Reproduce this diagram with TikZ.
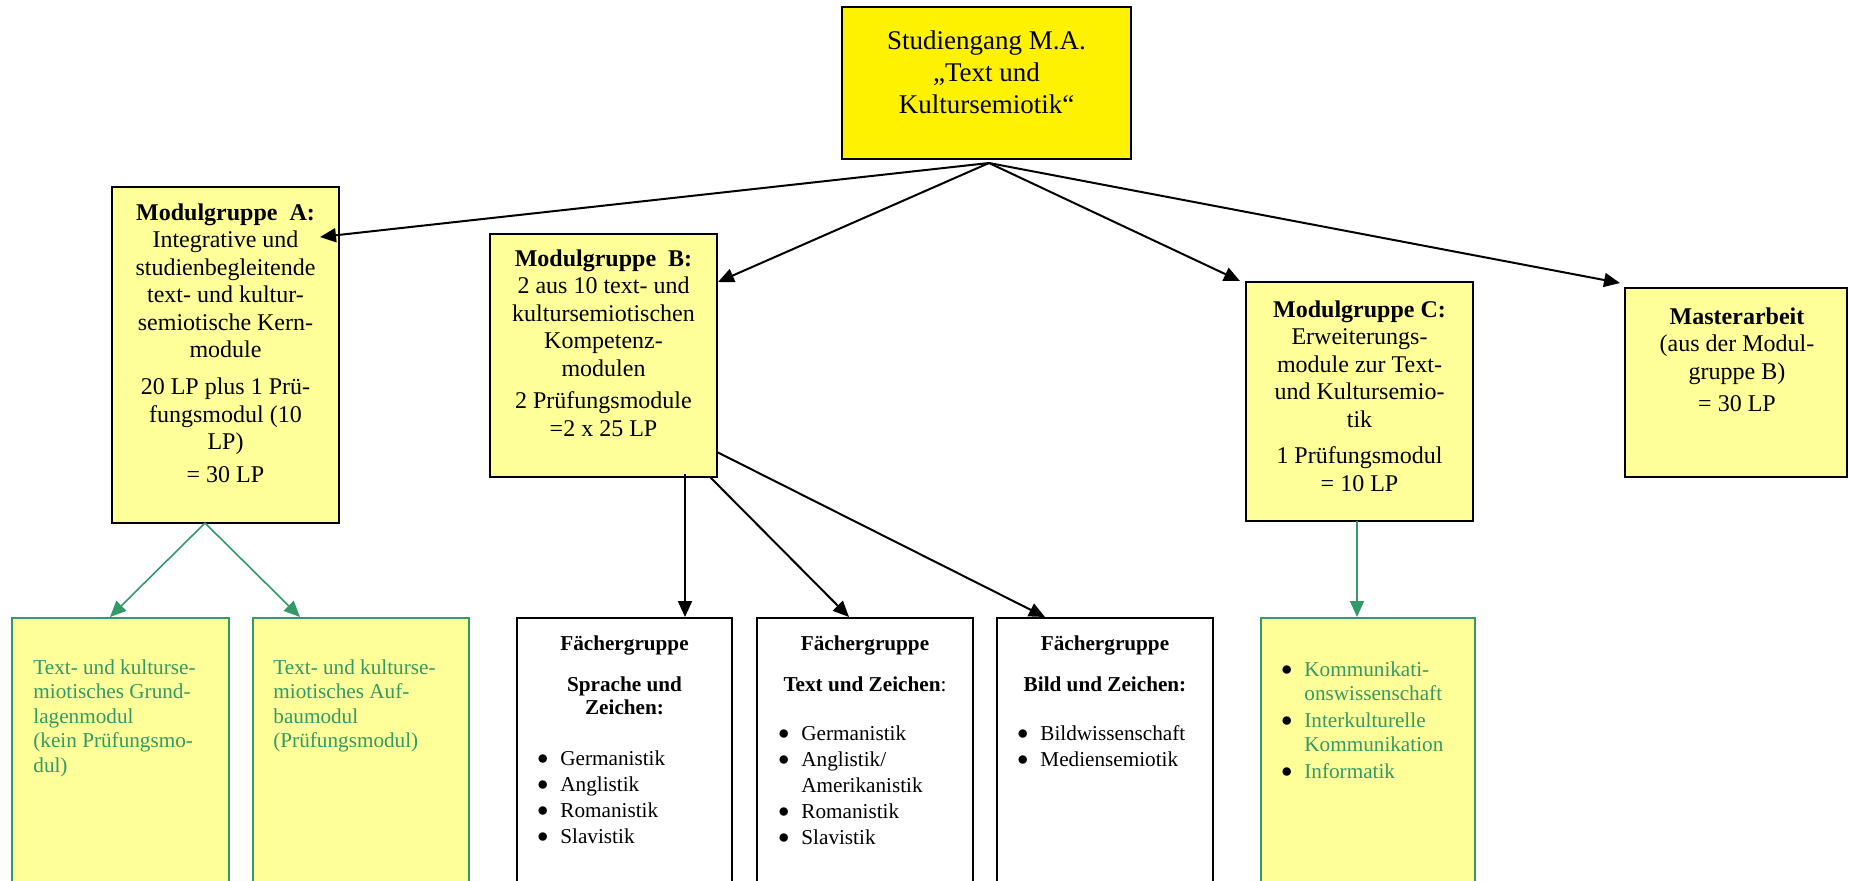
\documentclass[tikz,border=0pt]{standalone}
\usepackage{fontspec}
\setmainfont{Liberation Serif}
\usetikzlibrary{arrows.meta}

\definecolor{paleyellow}{RGB}{255,255,153}
\definecolor{seagreen}{RGB}{51,153,102}

\newcommand{\blt}{\raisebox{0.2pt}{$\bullet$}}

\tikzset{
  box/.style={draw=black, line width=1pt, fill=paleyellow, inner sep=0pt, outer sep=0pt, anchor=north west},
  greenbox/.style={box, draw=seagreen, line width=0.8pt},
  whitebox/.style={box, fill=white},
  arr/.style={-{Triangle[length=8pt,width=7pt]}, line width=1pt},
  greenarr/.style={arr, draw=seagreen, line width=0.8pt},
  txt/.style={inner sep=0pt, anchor=base, font=\fontsize{12}{13.75}\selectfont},
  headtxt/.style={inner sep=0pt, anchor=base, font=\fontsize{10.6}{11.5}\selectfont},
  listtxt/.style={inner sep=0pt, anchor=base west, font=\fontsize{10.6}{13}\selectfont},
}

\begin{document}
\begin{tikzpicture}[x=0.5pt, y=-0.5pt]
    \useasboundingbox (0,0) rectangle (1849,880);
    \clip (0,0) rectangle (1849,880);

    % Upper row of boxes
    \node[box, fill=yellow, minimum width=144.5pt, minimum height=76pt] (studiengang) at (842,7) {};
    \node[box, minimum width=113.5pt, minimum height=168pt] (modA) at (112,187) {};
    \node[box, minimum width=113.5pt, minimum height=121.5pt] (modB) at (490,234) {};
    \node[box, minimum width=113.5pt, minimum height=119.5pt] (modC) at (1246,282) {};
    \node[box, minimum width=111pt, minimum height=94.5pt] (master) at (1625,288) {};

    % Lower row of boxes (cut off at the bottom)
    \node[greenbox, minimum width=108.5pt, minimum height=141pt] (grund) at (12,618) {};
    \node[greenbox, minimum width=108pt, minimum height=141pt] (aufbau) at (253,618) {};
    \node[whitebox, minimum width=107.5pt, minimum height=141pt] (sprache) at (517,618) {};
    \node[whitebox, minimum width=108pt, minimum height=141pt] (textz) at (757,618) {};
    \node[whitebox, minimum width=108pt, minimum height=141pt] (bild) at (997,618) {};
    \node[greenbox, minimum width=107pt, minimum height=141pt] (kommu) at (1261,618) {};

    % Texts of the upper row
    \node[txt, font=\fontsize{13.5}{16}\selectfont] (studiengangtxt) at (986.5,49.5)
        {\begin{tabular}[t]{@{}c@{}}Studiengang M.A.\\„Text und\\Kultursemiotik“\end{tabular}};
    \node[txt] (modAtxt) at (225.5,220)
        {\begin{tabular}[t]{@{}c@{}}\textbf{Modulgruppe\ \ A:}\\Integrative und\\studienbegleitende\\text- und kultur-\\semiotische Kern-\\module\\[4.75pt]20 LP plus 1 Prü-\\fungsmodul (10\\LP)\\[2.75pt]= 30 LP\end{tabular}};
    \node[txt] (modBtxt) at (603.5,266)
        {\begin{tabular}[t]{@{}c@{}}\textbf{Modulgruppe\ \ B:}\\2 aus 10 text- und\\kultursemiotischen\\Kompetenz-\\modulen\\[2.5pt]2 Prüfungsmodule\\=2 x 25 LP\end{tabular}};
    \node[txt] (modCtxt) at (1359.5,317)
        {\begin{tabular}[t]{@{}c@{}}\textbf{Modulgruppe C:}\\Erweiterungs-\\module zur Text-\\und Kultursemio-\\tik\\[4.5pt]1 Prüfungsmodul\\= 10 LP\end{tabular}};
    \node[txt] (mastertxt) at (1737,324)
        {\begin{tabular}[t]{@{}c@{}}\textbf{Masterarbeit}\\(aus der Modul-\\gruppe B)\\[2.25pt]= 30 LP\end{tabular}};

    % Texts of the lower row
    \node[listtxt, font=\fontsize{10.6}{12.25}\selectfont, text=seagreen] (grundtxt) at (33,674)
        {\begin{tabular}[t]{@{}l@{}}Text- und kulturse-\\miotisches Grund-\\lagenmodul\\(kein Prüfungsmo-\\dul)\end{tabular}};
    \node[listtxt, font=\fontsize{10.6}{12.25}\selectfont, text=seagreen] (aufbautxt) at (273,674)
        {\begin{tabular}[t]{@{}l@{}}Text- und kulturse-\\miotisches Auf-\\baumodul\\(Prüfungsmodul)\end{tabular}};

    \node[headtxt] (sprachehead) at (624.5,650)
        {\begin{tabular}[t]{@{}c@{}}\textbf{Fächergruppe}\\[9pt]\textbf{Sprache und}\\\textbf{Zeichen:}\end{tabular}};
    \node[listtxt] (sprachelist) at (537,765)
        {\begin{tabular}[t]{@{}p{11.5pt}@{}l@{}}\blt&Germanistik\\\blt&Anglistik\\\blt&Romanistik\\\blt&Slavistik\end{tabular}};

    \node[headtxt] (textzhead) at (865,650)
        {\begin{tabular}[t]{@{}c@{}}\textbf{Fächergruppe}\\[9pt]\textbf{Text und Zeichen}:\end{tabular}};
    \node[listtxt] (textzlist) at (778,740)
        {\begin{tabular}[t]{@{}p{11.5pt}@{}l@{}}\blt&Germanistik\\\blt&Anglistik/\\&Amerikanistik\\\blt&Romanistik\\\blt&Slavistik\end{tabular}};

    \node[headtxt] (bildhead) at (1105,650)
        {\begin{tabular}[t]{@{}c@{}}\textbf{Fächergruppe}\\[9pt]\textbf{Bild und Zeichen:}\end{tabular}};
    \node[listtxt] (bildlist) at (1017,740)
        {\begin{tabular}[t]{@{}p{11.5pt}@{}l@{}}\blt&Bildwissenschaft\\\blt&Mediensemiotik\end{tabular}};

    \node[listtxt, font=\fontsize{10.6}{12}\selectfont] (kommulist) at (1281,676)
        {\begin{tabular}[t]{@{}p{11.5pt}@{}l@{}}\blt&\textcolor{seagreen}{Kommunikati-}\\&\textcolor{seagreen}{onswissenschaft}\\[1.5pt]\blt&\textcolor{seagreen}{Interkulturelle}\\&\textcolor{seagreen}{Kommunikation}\\[1.5pt]\blt&\textcolor{seagreen}{Informatik}\end{tabular}};

    % Connectors from the study programme
    \draw[arr] ([shift={(2.5,4)}]studiengang.south) -- ([shift={(-19,50)}]modA.north east);
    \draw[arr] ([shift={(2.5,4)}]studiengang.south) -- ([shift={(1,48)}]modB.north east);
    \draw[arr] ([shift={(2.5,4)}]studiengang.south) -- ([shift={(-6,-1)}]modC.north west);
    \draw[arr] ([shift={(2.5,4)}]studiengang.south) -- ([shift={(-5,-5)}]master.north west);

    % Connectors from Modulgruppe B
    \draw[arr] ([shift={(-32,-3)}]modB.south east) -- ([shift={(60.5,-1)}]sprache.north);
    \draw[arr] ([shift={(-7,0)}]modB.south east) -- ([shift={(-16,-1)}]textz.north);
    \draw[arr] ([shift={(0,-25)}]modB.south east) -- ([shift={(-60,-1)}]bild.north);

    % Green connectors
    \draw[greenarr] ([shift={(-20.5,0)}]modA.south) -- ([shift={(-10.5,-1)}]grund.north);
    \draw[greenarr] ([shift={(-20.5,0)}]modA.south) -- ([shift={(-61,-1)}]aufbau.north);
    \draw[greenarr] ([shift={(-2.5,0)}]modC.south) -- ([shift={(-11,-1)}]kommu.north);
\end{tikzpicture}
\end{document}
